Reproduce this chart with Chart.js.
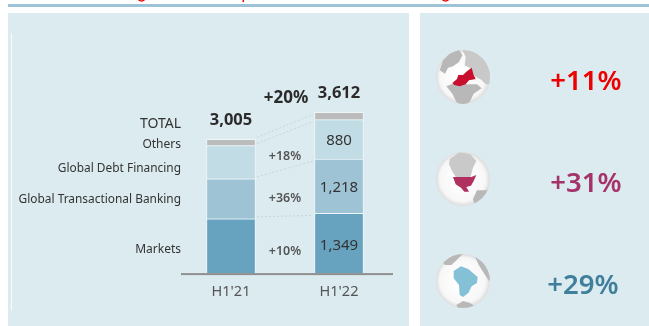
<!DOCTYPE html>
<html>
<head>
<meta charset="utf-8">
<script src="https://cdn.jsdelivr.net/npm/chart.js@4"></script>
<style>
    html, body { margin: 0; padding: 0; background: #fff; }
    #wrap { position: relative; width: 649px; height: 326px; overflow: hidden; }
    canvas { display: block; }
</style>
</head>
<body>
<div id="wrap"><canvas id="grafico" width="649" height="326"></canvas></div>
<script>
const periodos = ["H1'21", "H1'22"];
const markets = [1226, 1349];
const transactional = [896, 1218];
const debtFinancing = [746, 880];
const others = [137, 165];
const totais = ['3,005', '3,612'];
const nomes = ['Markets', 'Global Transactional Banking', 'Global Debt Financing', 'Others'];
const crescimento = ['+10%', '+36%', '+18%'];
const crescimentoTotal = '+20%';
const regioes = ['+11%', '+31%', '+29%'];

const fonte = '"Noto Sans", sans-serif';
const corFundo = '#dcebf0';

// Contornos dos globos, em coordenadas de um quadro de 180x180
const cinza = '#b8b8b8';
const cinzaClaro = '#c9c9c9';
const mapas = [
    [
        [cinza, [[20, 70], [30, 40], [50, 20], [78, 8], [88, 25], [78, 45], [60, 58], [45, 62], [36, 80]]],
        [cinzaClaro, [[88, 8], [130, 14], [165, 45], [178, 90], [172, 112], [158, 112], [145, 98], [125, 88], [112, 64], [95, 55], [98, 30]]],
        [cinza, [[40, 118], [70, 106], [100, 112], [132, 112], [146, 124], [122, 140], [110, 165], [88, 176], [70, 165], [58, 140]]],
        ['#c8102e', [[58, 108], [72, 96], [76, 84], [90, 84], [100, 74], [116, 62], [122, 84], [128, 96], [108, 100], [98, 112], [80, 118], [64, 114]]]
    ],
    [
        [cinzaClaro, [[50, 30], [80, 10], [112, 16], [130, 36], [120, 56], [112, 86], [70, 86], [58, 68], [48, 46]]],
        ['#b03060', [[60, 84], [115, 84], [130, 78], [122, 96], [114, 110], [100, 114], [108, 128], [94, 128], [84, 116], [68, 106]]],
        [cinza, [[120, 150], [132, 124], [160, 124], [178, 112], [170, 145], [145, 175], [125, 168]]]
    ],
    [
        [cinza, [[28, 32], [55, 12], [90, 8], [68, 30], [55, 42], [36, 42]]],
        [cinza, [[126, 16], [158, 38], [176, 75], [168, 90], [150, 62], [136, 40]]],
        [cinza, [[70, 162], [90, 150], [112, 156], [124, 166], [100, 176], [78, 176]]],
        ['#84c1d6', [[62, 60], [84, 46], [106, 54], [134, 78], [132, 96], [116, 106], [106, 126], [90, 138], [80, 132], [78, 102], [62, 82]]]
    ]
];

function desenhaGlobo(ctx, cx, cy, mapa) {
    const g = ctx.createRadialGradient(cx - 2, cy - 2, 6, cx, cy, 27);
    g.addColorStop(0, '#ffffff');
    g.addColorStop(0.8, '#f7f7f7');
    g.addColorStop(1, '#dcdcdc');
    ctx.save();
    ctx.beginPath();
    ctx.arc(cx, cy, 27, 0, Math.PI * 2);
    ctx.fillStyle = g;
    ctx.fill();
    ctx.clip();
    ctx.filter = 'blur(0.4px)';
    mapa.forEach(([cor, pts]) => {
        ctx.beginPath();
        pts.forEach((q, i) => {
            const px = cx + (q[0] - 90) / 3;
            const py = cy + (q[1] - 90) / 3;
            if (i === 0) ctx.moveTo(px, py);
            else ctx.lineTo(px, py);
        });
        ctx.closePath();
        ctx.fillStyle = cor;
        ctx.fill();
    });
    ctx.restore();
}

const pluginFundo = {
    id: 'fundo',
    beforeDraw(chart) {
        const ctx = chart.ctx;
        ctx.save();
        ctx.fillStyle = '#ffffff';
        ctx.fillRect(0, 0, 649, 326);
        ctx.fillStyle = '#9dc3d6';
        ctx.fillRect(8, 4, 641, 3);
        ctx.fillStyle = corFundo;
        ctx.fillRect(8, 13, 401, 313);
        ctx.fillRect(420, 13, 229, 313);
        ctx.fillStyle = '#f6fafb';
        ctx.fillRect(11, 33, 1, 277);
        // pontas do titulo cortado no topo
        ctx.strokeStyle = '#ec0000';
        ctx.lineWidth = 1.5;
        [141.5, 445.5].forEach((px) => {
            ctx.beginPath();
            ctx.arc(px, -3, 4, 0, Math.PI);
            ctx.stroke();
        });
        ctx.beginPath();
        ctx.moveTo(243.5, 0);
        ctx.lineTo(243, 2);
        ctx.stroke();
        ctx.restore();
    }
};

const pluginTextos = {
    id: 'textos',
    afterDatasetsDraw(chart) {
        const ctx = chart.ctx;
        const y = chart.scales.y;
        const x = chart.scales.x;
        const texto = (t, px, py, font, cor, align) => {
            ctx.font = font;
            ctx.fillStyle = cor;
            ctx.textAlign = align || 'center';
            ctx.textBaseline = 'middle';
            ctx.fillText(t, px, py);
        };

        ctx.save();

        // linha do eixo
        ctx.fillStyle = '#8f8f8f';
        ctx.fillRect(181, y.bottom - 0.5, x.right - 181, 2);

        // linhas pontilhadas entre as barras
        const barra0 = chart.getDatasetMeta(0).data;
        const barra1 = chart.getDatasetMeta(1).data;
        const barra2 = chart.getDatasetMeta(2).data;
        const barra3 = chart.getDatasetMeta(3).data;
        const xa = barra0[0].x + 26;
        const xb = barra0[1].x - 26;
        ctx.strokeStyle = '#cbd4d8';
        ctx.lineWidth = 1;
        ctx.setLineDash([2, 2]);
        [barra0, barra1, barra2, barra3].forEach((b) => {
            ctx.beginPath();
            ctx.moveTo(xa, b[0].y - 2);
            ctx.lineTo(xb, b[1].y + 2);
            ctx.stroke();
        });
        ctx.setLineDash([]);

        // valores dentro das barras de H1'22
        texto(markets[1].toLocaleString('en-US'), barra0[1].x, barra0[1].y + 32, '15px ' + fonte, '#333');
        texto(transactional[1].toLocaleString('en-US'), barra1[1].x, barra1[1].y + 28.5, '15px ' + fonte, '#333');
        texto(String(debtFinancing[1]), barra2[1].x, barra2[1].y + 21, '15px ' + fonte, '#333');

        // totais
        texto(totais[0], barra3[0].x, barra3[0].y - 19, 'bold 16.5px ' + fonte, '#2b2b2b');
        texto(totais[1], barra3[1].x, barra3[1].y - 19, 'bold 16.5px ' + fonte, '#2b2b2b');
        texto(crescimentoTotal, 286, 98, 'bold 17px ' + fonte, '#2b2b2b');

        // crescimento por linha
        const meio = x.getPixelForValue(0.5);
        texto(crescimento[0], meio, 251, '600 12.5px ' + fonte, '#555');
        texto(crescimento[1], meio, 198, '600 12.5px ' + fonte, '#555');
        texto(crescimento[2], meio, 156, '600 12.5px ' + fonte, '#555');

        // nomes das linhas, alinhados a direita
        texto('TOTAL', 181, 124, '14px ' + fonte, '#333', 'right');
        texto(nomes[3], 181, 144.5, '12px ' + fonte, '#333', 'right');
        texto(nomes[2], 181, 168.5, '11.9px ' + fonte, '#333', 'right');
        texto(nomes[1], 181, 200, '11.9px ' + fonte, '#333', 'right');
        texto(nomes[0], 181, 249.5, '12px ' + fonte, '#333', 'right');

        // painel da direita
        const coresRegiao = ['#ec0000', '#a5336a', '#3f7f9c'];
        const xRegiao = [586, 586, 583];
        const yRegiao = [82, 184, 286];
        const yGlobo = [77, 179, 281];
        regioes.forEach((r, i) => {
            desenhaGlobo(ctx, 463, yGlobo[i], mapas[i]);
            texto(r, xRegiao[i], yRegiao[i], '600 27.5px ' + fonte, coresRegiao[i]);
        });

        ctx.restore();
    }
};

new Chart(document.getElementById('grafico').getContext('2d'), {
    type: 'bar',
    data: {
        labels: periodos,
        datasets: [
            { label: nomes[0], data: markets, backgroundColor: '#67a3be' },
            { label: nomes[1], data: transactional, backgroundColor: '#9dc3d5' },
            { label: nomes[2], data: debtFinancing, backgroundColor: '#c2dce6' },
            { label: nomes[3], data: others, backgroundColor: '#bcbcbc' }
        ].map(d => ({ ...d, borderColor: '#eef5f7', borderWidth: 1, barThickness: 49 }))
    },
    options: {
        responsive: false,
        animation: false,
        layout: { padding: { left: 177, right: 256, top: 95, bottom: 15 } },
        plugins: { legend: { display: false }, tooltip: { enabled: false } },
        scales: {
            x: {
                stacked: true,
                grid: { display: false, drawTicks: false },
                border: { display: false },
                ticks: { color: '#555', padding: 10, font: { family: fonte, size: 14.5 } }
            },
            y: { stacked: true, display: false, min: 0, max: 4000 }
        }
    },
    plugins: [pluginFundo, pluginTextos]
});
</script>
</body>
</html>
